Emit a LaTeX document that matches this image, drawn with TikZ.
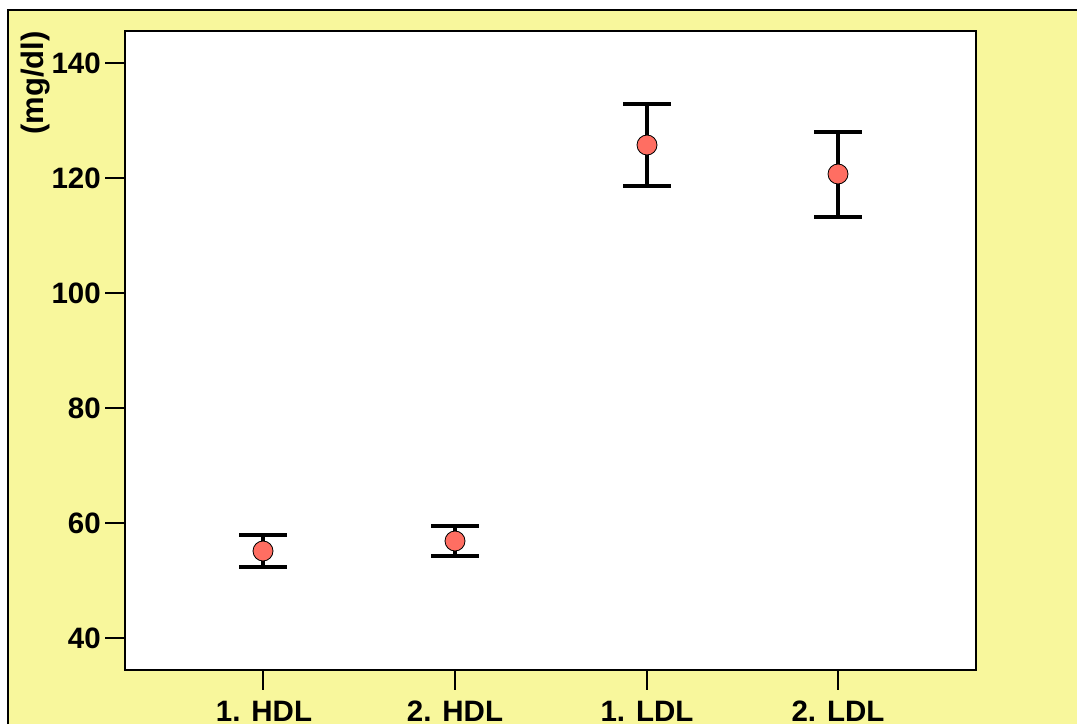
\documentclass[tikz,border=0pt]{standalone}
\usepackage{fontspec}
\setmainfont{Liberation Sans}
\definecolor{panel}{RGB}{248,247,156}
\definecolor{dot}{RGB}{255,110,98}
\begin{document}
\begin{tikzpicture}[x=1pt, y=1pt]
        \tikzstyle{tick}=[line width=1.3pt]
        \tikzstyle{ylab}=[anchor=east, inner sep=0pt, font=\fontsize{29.5}{32}\selectfont\bfseries]
        \tikzstyle{xlab}=[anchor=base, inner sep=0pt, font=\fontsize{29.5}{32}\selectfont\bfseries]
        \tikzstyle{mean}=[draw, shape=circle, fill=dot, minimum size=20pt, inner sep=0pt, line width=0.8pt]
        \tikzstyle{bar}=[line width=4.5pt]

        \useasboundingbox (0,0) rectangle (1077,724);
        \fill[white] (0,0) rectangle (1077,724);
        \fill[panel] (8,0) rectangle (1077,714);
        \draw[line width=1.5pt] (8,0) -- (8,714) -- (1077,714);
        \draw[fill=white, line width=1.2pt] (125,54) rectangle (976,693);

        % y axis
        \node[ylab](y140) at (101,661){140};
        \node[ylab](y120) at (101,546){120};
        \node[ylab](y100) at (101,431){100};
        \node[ylab](y80) at (101,316){80};
        \node[ylab](y60) at (101,201){60};
        \node[ylab](y40) at (101,86){40};
        \draw[tick] (105,661) -- (125,661);
        \draw[tick] (105,546) -- (125,546);
        \draw[tick] (105,431) -- (125,431);
        \draw[tick] (105,316) -- (125,316);
        \draw[tick] (105,201) -- (125,201);
        \draw[tick] (105,86) -- (125,86);
        \node[rotate=90, inner sep=0pt, font=\fontsize{31}{34}\selectfont\bfseries](unit) at (36,641){(mg/dl)};

        % x axis
        \node[xlab](x1) at (264,3){1. HDL};
        \node[xlab](x2) at (455,3){2. HDL};
        \node[xlab](x3) at (647,3){1. LDL};
        \node[xlab](x4) at (838,3){2. LDL};
        \draw[tick] (263,54) -- (263,34);
        \draw[tick] (455,54) -- (455,34);
        \draw[tick] (647,54) -- (647,34);
        \draw[tick] (838,54) -- (838,34);

        % error bars
        \coordinate (u1) at (263,189);
        \coordinate (l1) at (263,157);
        \coordinate (u2) at (455,198);
        \coordinate (l2) at (455,168);
        \coordinate (u3) at (647,620);
        \coordinate (l3) at (647,538);
        \coordinate (u4) at (838,592);
        \coordinate (l4) at (838,507);

        \draw[bar] (u1) -- (l1);
        \draw[bar] ([xshift=-24pt]u1) -- ([xshift=24pt]u1);
        \draw[bar] ([xshift=-24pt]l1) -- ([xshift=24pt]l1);
        \draw[bar] (u2) -- (l2);
        \draw[bar] ([xshift=-24pt]u2) -- ([xshift=24pt]u2);
        \draw[bar] ([xshift=-24pt]l2) -- ([xshift=24pt]l2);
        \draw[bar] (u3) -- (l3);
        \draw[bar] ([xshift=-24pt]u3) -- ([xshift=24pt]u3);
        \draw[bar] ([xshift=-24pt]l3) -- ([xshift=24pt]l3);
        \draw[bar] (u4) -- (l4);
        \draw[bar] ([xshift=-24pt]u4) -- ([xshift=24pt]u4);
        \draw[bar] ([xshift=-24pt]l4) -- ([xshift=24pt]l4);

        \node[mean](m1) at (263,173){};
        \node[mean](m2) at (455,183){};
        \node[mean](m3) at (647,579){};
        \node[mean](m4) at (838,550){};
        \end{tikzpicture}
\end{document}
